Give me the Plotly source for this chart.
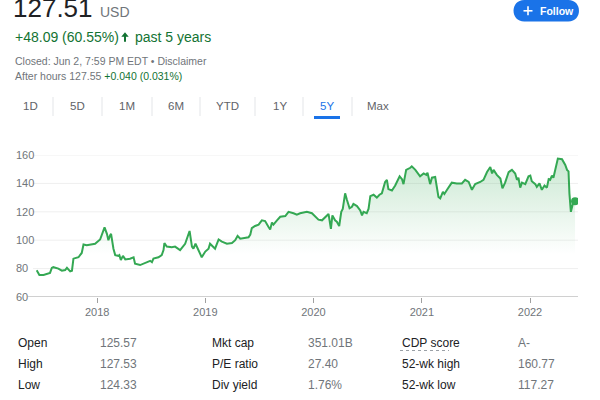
import plotly.graph_objects as go

# ---------------- data ----------------
dates = ["2017-06-11","2017-06-20","2017-07-04","2017-07-15","2017-07-26","2017-08-01","2017-08-06","2017-08-23",
"2017-09-04","2017-09-15","2017-09-21","2017-10-02","2017-10-08","2017-10-13","2017-10-30","2017-11-10","2017-11-16",
"2017-11-27","2017-12-14","2017-12-25","2018-01-11","2018-01-17","2018-01-26","2018-02-03","2018-02-08","2018-02-14",
"2018-02-17","2018-02-25","2018-03-03","2018-03-14","2018-03-17","2018-03-22","2018-03-29","2018-04-06","2018-04-22",
"2018-05-04","2018-05-09","2018-05-26","2018-06-06","2018-06-18","2018-06-29","2018-07-05","2018-07-10","2018-07-27",
"2018-08-07","2018-08-13","2018-08-16","2018-08-24","2018-09-10","2018-09-21","2018-09-27","2018-10-08","2018-10-25",
"2018-11-05","2018-11-09","2018-11-17","2018-11-22","2018-11-29","2018-12-09","2018-12-20","2019-01-01","2019-01-12",
"2019-01-17","2019-01-29","2019-02-03","2019-02-15","2019-02-26","2019-03-15","2019-04-01","2019-04-12","2019-04-20",
"2019-04-29","2019-05-16","2019-05-27","2019-06-02","2019-06-07","2019-06-18","2019-06-30","2019-07-11","2019-07-22",
"2019-08-02","2019-08-08","2019-08-14","2019-08-19","2019-08-31","2019-09-11","2019-09-28","2019-10-09","2019-10-26",
"2019-11-06","2019-11-17","2019-12-10","2019-12-27","2020-01-18","2020-01-30","2020-02-10","2020-02-21","2020-02-29",
"2020-03-05","2020-03-14","2020-03-20","2020-03-28","2020-04-04","2020-04-09","2020-04-17","2020-04-23","2020-05-02",
"2020-05-10","2020-05-15","2020-05-27","2020-06-07","2020-06-13","2020-06-18","2020-06-29","2020-07-05","2020-07-11",
"2020-07-22","2020-08-02","2020-08-11","2020-08-19","2020-08-25","2020-08-30","2020-09-05","2020-09-10","2020-09-22",
"2020-10-03","2020-10-18","2020-10-26","2020-10-31","2020-11-09","2020-11-23","2020-11-28","2020-12-10","2020-12-26",
"2021-01-07","2021-01-16","2021-01-20","2021-01-29","2021-02-04","2021-02-15","2021-02-26","2021-03-04","2021-03-13",
"2021-03-18","2021-03-27","2021-04-12","2021-04-29","2021-05-16","2021-05-27","2021-06-08","2021-06-19","2021-06-30",
"2021-07-17","2021-07-28","2021-08-09","2021-08-20","2021-08-26","2021-08-31","2021-09-11","2021-09-23","2021-09-30",
"2021-10-09","2021-10-21","2021-11-01","2021-11-12","2021-11-18","2021-11-23","2021-11-29","2021-12-05","2021-12-16",
"2021-12-27","2022-01-02","2022-01-07","2022-01-19","2022-01-24","2022-02-02","2022-02-10","2022-02-19","2022-02-27",
"2022-03-05","2022-03-10","2022-03-16","2022-03-21","2022-03-31","2022-04-05","2022-04-19","2022-04-30","2022-05-06",
"2022-05-11","2022-05-14","2022-05-19","2022-05-26","2022-06-02"]
prices = [78.8,75.5,75.5,76,77,80.5,81,80,78.5,79,80.5,78,78.5,87,88,91,97,96.5,97,97.5,100.5,103.5,109,104.5,100,103.5,
104.5,94,89.5,89,89.5,86,89,86.5,87,88,83.5,82.5,83.5,84.5,85.5,84.5,87,88,89.5,93,98,95.5,95,95.5,94.5,93,97.5,103.5,
106.5,95.5,94,97.5,93,88,92,94,97.5,95,94,100.5,99,97.5,98,100,103,101,101.5,102,104,108.5,110,111,114,113.5,109.5,
107.5,112.5,111,114,116.5,117,120,119,118,119,120,119,114.5,114,116,118.5,108,117.5,114,113,110,120,122,133,128.5,
122.5,123.5,125.5,124,121,117.5,120,119,122,131,132,130,132,133,137.5,141,142.5,136,135,138.5,145,143,139.5,149.5,151,
152,149.5,145,147,146,147.5,139.5,144,144.5,130.5,129.5,134,132.5,135.5,140.5,140,140,142.5,141,135.5,139.5,141,142.5,
148,151.5,147,149.5,146,143.5,136.5,140.5,148,149.5,147,142.5,144,137,140.5,139.5,145,145.5,141.5,139.5,137.5,140,
135.5,138.5,137,143,142.5,145.5,144,153,157.5,157,153,149.5,148.5,133,120,126,127.51]

y_ticks = [60, 80, 100, 120, 140, 160]
periods = ["1D", "5D", "1M", "6M", "YTD", "1Y", "5Y", "Max"]
active_period = "5Y"
stat_labels = [["Open", "High", "Low"], ["Mkt cap", "P/E ratio", "Div yield"], ["CDP score", "52-wk high", "52-wk low"]]
stat_values = [["125.57", "127.53", "124.33"], ["351.01B", "27.40", "1.76%"], ["A-", "160.77", "117.27"]]

# ---------------- style / geometry ----------------
FONT = "Liberation Sans, Arial, Helvetica, sans-serif"
GREEN = "#34a853"
DKGREEN = "#137333"
GREY = "#70757a"
DARK = "#202124"
BLUE = "#1a73e8"
L, R, T, B = 13, 22, 155, 103
W = 600 - L - R
H = 400 - T - B

def fx(x):
    return (x - L) / W

def fy(y):
    return (400 - B - y) / H

fig = go.Figure()
fig.add_trace(go.Scatter(
    x=dates, y=prices, mode="lines",
    line=dict(color=GREEN, width=2),
    fill="tozeroy",
    fillgradient=dict(type="vertical",
                      colorscale=[[0, "rgba(52,168,83,0)"], [0.3, "rgba(52,168,83,0)"],
                                  [1, "rgba(52,168,83,0.27)"]],
                      start=60, stop=160),
    hoverinfo="skip", showlegend=False))
fig.add_trace(go.Scatter(
    x=[dates[-1]], y=[prices[-1]], mode="markers",
    marker=dict(color=GREEN, size=8), hoverinfo="skip", showlegend=False))

shapes = []
# gridlines (start after the labels)
for v in y_ticks[1:]:
    shapes.append(dict(type="line", xref="paper", yref="y", x0=fx(33), x1=1, y0=v, y1=v,
                       line=dict(color="#efefef", width=1), layer="below"))
# baseline
shapes.append(dict(type="line", xref="paper", yref="y", x0=fx(27), x1=1, y0=y_ticks[0], y1=y_ticks[0],
                   line=dict(color="#a0a0a0", width=1)))

annotations = []

def ann(text, x, y, size, color, xanchor="left"):
    annotations.append(dict(text=text, x=fx(x), y=fy(y), xref="paper", yref="paper",
                            xanchor=xanchor, yanchor="middle", showarrow=False,
                            font=dict(family=FONT, size=size, color=color)))

# header
ann("127.51", 11, 7.5, 26, DARK)
ann("USD", 98, 12.5, 14, GREY)
ann("+48.09 (60.55%)", 13, 37, 14, DKGREEN)
ann("past 5 years", 133, 37, 14, DKGREEN)
ann("Closed: Jun 2, 7:59 PM EDT • Disclaimer", 13, 61, 10.5, GREY)
ann("After hours 127.55 <span style='color:%s'>+0.040 (0.031%%)</span>" % DKGREEN, 13, 76, 10.5, GREY)

# up arrow
def pth(points):
    s = "M %f %f " % (fx(points[0][0]), fy(points[0][1]))
    for p in points[1:]:
        s += "L %f %f " % (fx(p[0]), fy(p[1]))
    return s + "Z"

shapes.append(dict(type="path", xref="paper", yref="paper",
                   path=pth([(121.3, 36.8), (125, 32.2), (128.7, 36.8), (126, 36.8), (126, 41.8), (124, 41.8), (124, 36.8)]),
                   fillcolor=DKGREEN, line=dict(width=0)))

# period buttons
centers = [30, 77, 127, 176, 227, 280, 327, 378]
for lab, cx in zip(periods, centers):
    ann(lab, cx, 106.5, 11.5, BLUE if lab == active_period else "#5f6368", xanchor="center")
for sx in [53, 102, 152, 200, 255, 303, 352]:
    shapes.append(dict(type="line", xref="paper", yref="paper", x0=fx(sx), x1=fx(sx), y0=fy(97), y1=fy(116),
                       line=dict(color="#e3e5e8", width=1)))
shapes.append(dict(type="line", xref="paper", yref="paper", x0=fx(314), x1=fx(340), y0=fy(117.5), y1=fy(117.5),
                   line=dict(color=BLUE, width=3)))

# follow button (pill)
x0, x1, y0, y1 = 513.5, 579, 0, 21.5
r = (y1 - y0) / 2
path = "M %f %f L %f %f C %f %f %f %f %f %f L %f %f C %f %f %f %f %f %f Z" % (
    fx(x0 + r), fy(y0), fx(x1 - r), fy(y0),
    fx(x1 + r * 0.33), fy(y0), fx(x1 + r * 0.33), fy(y1), fx(x1 - r), fy(y1),
    fx(x0 + r), fy(y1),
    fx(x0 - r * 0.33), fy(y1), fx(x0 - r * 0.33), fy(y0), fx(x0 + r), fy(y0))
shapes.append(dict(type="path", xref="paper", yref="paper", path=path, fillcolor=BLUE, line=dict(width=0)))
shapes.append(dict(type="line", xref="paper", yref="paper", x0=fx(523.5), x1=fx(532.5), y0=fy(10.8), y1=fy(10.8),
                   line=dict(color="white", width=1.6)))
shapes.append(dict(type="line", xref="paper", yref="paper", x0=fx(528), x1=fx(528), y0=fy(6.3), y1=fy(15.3),
                   line=dict(color="white", width=1.6)))
ann("<b>Follow</b>", 538, 10.8, 10.5, "white")

# stats table
row_y = [343, 364, 385]
label_x = [16, 210, 400]
value_x = [98, 306, 516]
for c in range(3):
    for rr in range(3):
        ann(stat_labels[c][rr], label_x[c], row_y[rr], 12, DARK)
        ann(stat_values[c][rr], value_x[c], row_y[rr], 12, GREY)
shapes.append(dict(type="line", xref="paper", yref="paper", x0=fx(400), x1=fx(449), y0=fy(350.5), y1=fy(350.5),
                   line=dict(color="#9aa0a6", width=1, dash="dot")))

fig.update_layout(
    width=600, height=400,
    margin=dict(l=L, r=R, t=T, b=B),
    paper_bgcolor="white", plot_bgcolor="white",
    font=dict(family=FONT, color=GREY),
    showlegend=False,
    shapes=shapes, annotations=annotations,
    xaxis=dict(type="date", range=["2017-03-23", "2022-06-12"],
               tick0="2018-01-01", dtick="M12", tickformat="%Y",
               showgrid=False, zeroline=False, showline=False,
               ticks="outside", ticklen=5, tickcolor="#a0a0a0", tickwidth=1,
               tickfont=dict(family=FONT, size=11, color=GREY)),
    yaxis=dict(range=[60, 160], tickvals=y_ticks, showgrid=False, zeroline=False, showline=False,
               ticklabelposition="inside", ticklabeloverflow="allow",
               tickfont=dict(family=FONT, size=11, color=GREY)),
)

fig.write_html("out.html")
